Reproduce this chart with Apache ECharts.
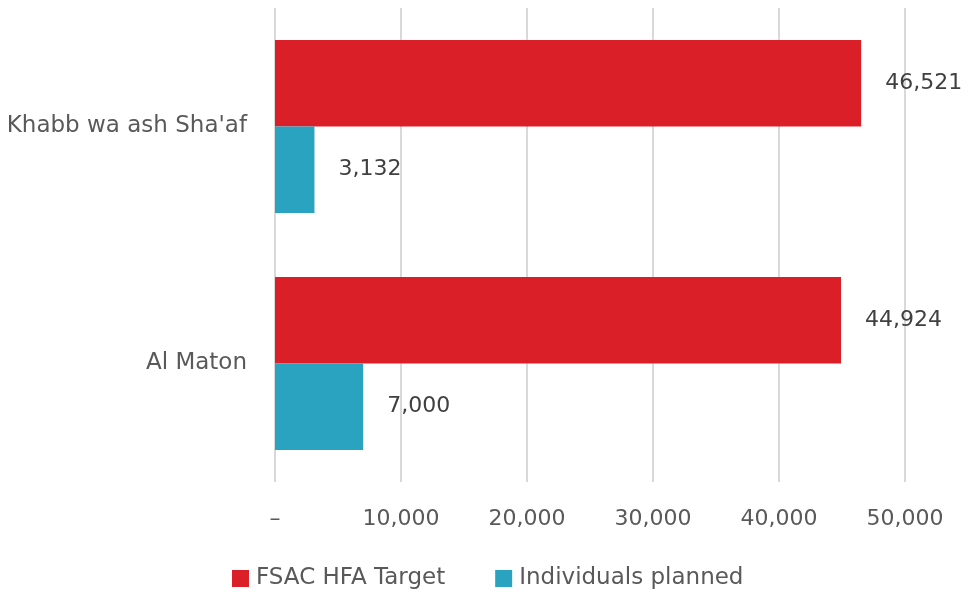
<!DOCTYPE html>
<html>
<head>
<meta charset="utf-8">
<script src="https://cdn.jsdelivr.net/npm/echarts@6/dist/echarts.min.js"></script>
<style>
  html, body { margin: 0; padding: 0; background: #fff; }
  #main { width: 968px; height: 592px; }
</style>
</head>
<body>
<div id="main"></div>
<script>
// data
const districts = ['Khabb wa ash Sha\'af', 'Al Maton'];
const hfaTarget = [46521, 44924];
const planned = [3132, 7000];
const seriesNames = ['FSAC HFA Target', 'Individuals planned'];

const fontFam = 'DejaVu Sans';
const fmt = v => v === 0 ? '–' : v.toLocaleString('en-US');

const chart = echarts.init(document.getElementById('main'));

const labelOpt = {
  show: true,
  position: 'right',
  distance: 24,
  color: '#404040',
  fontFamily: fontFam,
  fontSize: 22,
  formatter: p => fmt(p.value)
};

chart.setOption({
  animation: false,
  grid: { left: 275, right: 63, top: 8, bottom: 110, containLabel: false },
  legend: {
    bottom: 2,
    left: 232,
    padding: 0,
    itemWidth: 17,
    itemHeight: 17,
    itemGap: 50,
    icon: 'rect',
    textStyle: { color: '#595959', fontFamily: fontFam, fontSize: 23, padding: [0, 0, 0, 2] },
    data: seriesNames
  },
  xAxis: {
    type: 'value',
    min: 0,
    max: 50000,
    interval: 10000,
    axisLine: { show: false },
    axisTick: { show: false },
    splitLine: { lineStyle: { color: '#d9d9d9', width: 2 } },
    axisLabel: {
      color: '#595959',
      fontFamily: fontFam,
      fontSize: 22,
      margin: 26,
      formatter: fmt
    }
  },
  yAxis: {
    type: 'category',
    inverse: true,
    data: districts,
    axisLine: { show: false },
    axisTick: { show: false },
    axisLabel: {
      color: '#595959',
      fontFamily: fontFam,
      fontSize: 23,
      margin: 28,
      padding: [0, 0, 12, 0]
    }
  },
  series: [
    {
      name: seriesNames[0],
      type: 'bar',
      data: hfaTarget,
      itemStyle: { color: '#DA1F28' },
      barGap: '0%',
      barCategoryGap: '27%',
      label: labelOpt
    },
    {
      name: seriesNames[1],
      type: 'bar',
      data: planned,
      itemStyle: { color: '#2AA3C1' },
      label: labelOpt
    }
  ]
});
</script>
</body>
</html>
